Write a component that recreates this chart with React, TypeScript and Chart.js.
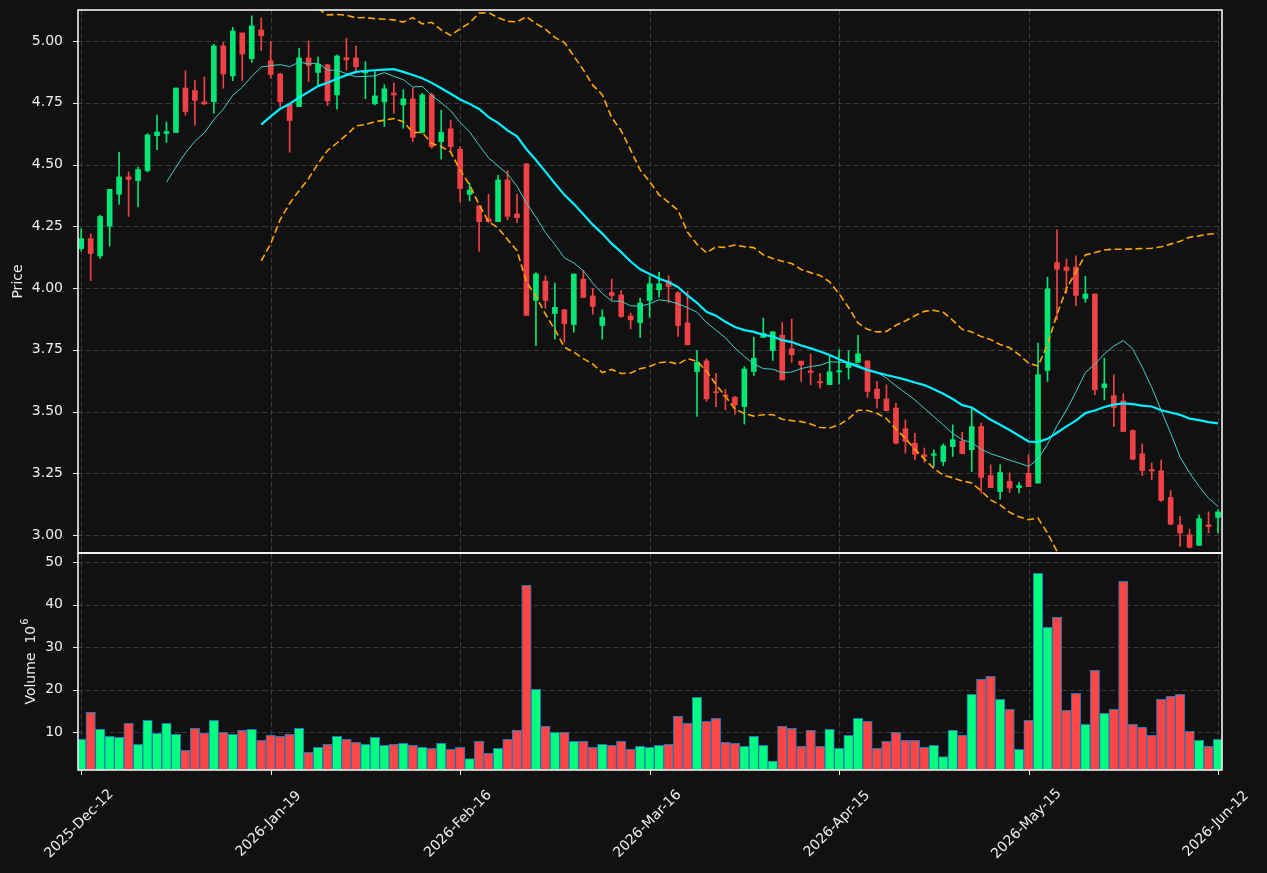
import React, { useEffect, useRef } from 'react';
import { Chart, registerables } from 'chart.js';

Chart.register(...registerables);

// ---------------- data ----------------
const opens = [
  4.16, 4.2, 4.13, 4.25, 4.38, 4.45, 4.435, 4.475, 4.617, 4.626,
  4.63, 4.81, 4.8, 4.754, 4.754, 4.981, 4.859, 5.033, 4.929, 5.045,
  4.92, 4.867, 4.746, 4.735, 4.932, 4.873, 4.904, 4.782, 4.933, 4.932,
  4.871, 4.746, 4.754, 4.79, 4.742, 4.766, 4.63, 4.782, 4.593, 4.645,
  4.562, 4.379, 4.333, 4.28, 4.269, 4.438, 4.3, 4.503, 3.95, 4.028,
  3.897, 3.912, 3.852, 4.036, 3.968, 3.848, 3.982, 3.972, 3.887, 3.86,
  3.95, 3.993, 4.028, 3.981, 3.859, 3.662, 3.705, 3.58, 3.567, 3.558,
  3.52, 3.662, 3.8, 3.747, 3.809, 3.754, 3.704, 3.664, 3.621, 3.609,
  3.66, 3.678, 3.699, 3.705, 3.591, 3.551, 3.514, 3.43, 3.372, 3.325,
  3.323, 3.298, 3.358, 3.379, 3.345, 3.439, 3.241, 3.176, 3.217, 3.192,
  3.25, 3.21, 3.666, 4.103, 4.085, 4.085, 3.958, 3.976, 3.597, 3.564,
  3.543, 3.423, 3.329, 3.265, 3.26, 3.152, 3.041, 3.001, 2.958, 3.041,
  3.071,
];
const highs = [
  4.24, 4.22, 4.295, 4.4, 4.55, 4.47, 4.49, 4.625, 4.7, 4.672,
  4.81, 4.88, 4.84, 4.854, 4.987, 4.994, 5.056, 5.033, 5.102, 5.093,
  4.998, 4.87, 4.746, 4.971, 5.001, 4.935, 4.907, 4.944, 5.012, 4.981,
  4.917, 4.877, 4.823, 4.83, 4.803, 4.809, 4.789, 4.789, 4.72, 4.68,
  4.573, 4.425, 4.333, 4.38, 4.456, 4.476, 4.38, 4.503, 4.063, 4.049,
  4.02, 3.914, 4.057, 4.071, 3.999, 3.912, 4.036, 3.99, 3.898, 3.959,
  4.047, 4.064, 4.049, 3.986, 3.986, 3.747, 3.713, 3.655, 3.59, 3.561,
  3.682, 3.801, 3.878, 3.823, 3.86, 3.874, 3.704, 3.732, 3.655, 3.73,
  3.75, 3.747, 3.809, 3.705, 3.622, 3.608, 3.534, 3.466, 3.412, 3.352,
  3.345, 3.369, 3.446, 3.416, 3.518, 3.453, 3.284, 3.284, 3.251, 3.213,
  3.325, 3.777, 4.044, 4.236, 4.117, 4.13, 4.047, 3.976, 3.716, 3.649,
  3.572, 3.426, 3.369, 3.291, 3.304, 3.18, 3.075, 3.024, 3.082, 3.093,
  3.102,
];
const lows = [
  4.15, 4.03, 4.12, 4.17, 4.34, 4.29, 4.33, 4.47, 4.56, 4.59,
  4.63, 4.7, 4.66, 4.742, 4.708, 4.809, 4.84, 4.84, 4.914, 4.962,
  4.85, 4.735, 4.55, 4.735, 4.836, 4.823, 4.739, 4.724, 4.883, 4.87,
  4.766, 4.742, 4.654, 4.708, 4.647, 4.593, 4.627, 4.566, 4.522, 4.553,
  4.348, 4.353, 4.148, 4.265, 4.269, 4.276, 4.265, 3.889, 3.767, 3.918,
  3.793, 3.781, 3.821, 3.962, 3.894, 3.793, 3.952, 3.881, 3.835, 3.8,
  3.882, 3.963, 3.941, 3.804, 3.77, 3.48, 3.541, 3.52, 3.507, 3.489,
  3.449, 3.646, 3.8, 3.707, 3.628, 3.699, 3.622, 3.608, 3.595, 3.609,
  3.611, 3.631, 3.699, 3.557, 3.514, 3.503, 3.368, 3.331, 3.304, 3.294,
  3.277, 3.281, 3.318, 3.329, 3.257, 3.17, 3.192, 3.145, 3.172, 3.17,
  3.196, 3.21, 3.622, 3.871, 3.979, 3.929, 3.942, 3.568, 3.547, 3.439,
  3.419, 3.305, 3.24, 3.224, 3.136, 3.041, 2.954, 2.947, 2.958, 3.008,
  3.008,
];
const closes = [
  4.2, 4.14, 4.29, 4.4, 4.45, 4.44, 4.48, 4.62, 4.632, 4.634,
  4.81, 4.715, 4.76, 4.746, 4.981, 4.867, 5.041, 4.948, 5.062, 5.022,
  4.865, 4.755, 4.678, 4.932, 4.901, 4.906, 4.758, 4.94, 4.924, 4.896,
  4.881, 4.778, 4.807, 4.782, 4.766, 4.61, 4.782, 4.573, 4.63, 4.573,
  4.403, 4.397, 4.269, 4.269, 4.438, 4.29, 4.285, 3.889, 4.057, 3.95,
  3.922, 3.856, 4.057, 3.962, 3.925, 3.882, 3.97, 3.885, 3.871, 3.939,
  4.017, 4.017, 4.006, 3.848, 3.77, 3.7, 3.551, 3.576, 3.561, 3.527,
  3.672, 3.716, 3.817, 3.823, 3.628, 3.73, 3.689, 3.658, 3.616, 3.661,
  3.665, 3.696, 3.734, 3.581, 3.553, 3.503, 3.372, 3.379, 3.327, 3.318,
  3.328, 3.361, 3.386, 3.329, 3.439, 3.233, 3.192, 3.253, 3.19, 3.2,
  3.196, 3.649, 3.997, 4.076, 4.071, 3.97, 3.976, 3.588, 3.612, 3.516,
  3.419, 3.307, 3.261, 3.259, 3.14, 3.044, 3.008, 2.95, 3.066, 3.034,
  3.093,
];
// volume in millions
const volumes = [
  8.35, 14.7, 10.7, 9.05, 8.82, 12.11, 7.17, 12.82, 9.76, 12.11,
  9.52, 5.76, 10.93, 9.84, 12.82, 9.99, 9.52, 10.46, 10.7, 8.11,
  9.29, 9.05, 9.52, 10.93, 5.29, 6.46, 7.17, 9.05, 8.35, 7.64,
  7.17, 8.82, 6.93, 7.17, 7.4, 6.93, 6.46, 6.23, 7.4, 5.99,
  6.46, 3.8, 7.87, 5.05, 6.23, 8.35, 10.46, 44.58, 20.11, 11.4,
  9.99, 9.99, 7.87, 7.87, 6.46, 7.17, 6.93, 7.87, 5.99, 6.7,
  6.46, 6.93, 7.17, 13.76, 12.11, 18.23, 12.58, 13.29, 7.64, 7.4,
  6.7, 9.05, 6.93, 3.25, 11.4, 10.93, 6.7, 10.46, 6.7, 10.7,
  6.23, 9.29, 13.29, 12.58, 6.23, 7.87, 9.99, 8.11, 8.11, 6.46,
  6.93, 4.27, 10.46, 9.29, 18.93, 22.46, 23.17, 17.76, 15.4, 5.99,
  12.82, 47.4, 34.7, 37.05, 15.17, 19.17, 11.87, 24.58, 14.46, 15.4,
  45.52, 11.87, 11.17, 9.29, 17.76, 18.46, 18.93, 10.23, 8.11, 6.7,
  8.35,
];
const tickIndices = [0, 20, 40, 60, 80, 100, 120];
const tickLabels = [
  '2025-Dec-12', '2026-Jan-19', '2026-Feb-16', '2026-Mar-16',
  '2026-Apr-15', '2026-May-15', '2026-Jun-12',
];

// ---------------- style ----------------
const BG = '#111111';
const TEXT = '#eeeeee';
const GRID = '#3a3a3a';
const UP = '#00e676';
const DOWN = '#ef4146';
const VOL_UP = '#00ff80';
const VOL_DOWN = '#ff4545';
const FONT = 'DejaVu Sans';

// ---------------- indicators derived from the closes ----------------
function sma(arr: number[], n: number) {
  const out: { x: number; y: number }[] = [];
  for (let i = n - 1; i < arr.length; i++) {
    let s = 0;
    for (let j = i - n + 1; j <= i; j++) s += arr[j];
    out.push({ x: i, y: s / n });
  }
  return out;
}
function band(arr: number[], n: number, k: number) {
  const out: { x: number; y: number }[] = [];
  for (let i = n - 1; i < arr.length; i++) {
    let s = 0;
    for (let j = i - n + 1; j <= i; j++) s += arr[j];
    const m = s / n;
    let v = 0;
    for (let j = i - n + 1; j <= i; j++) v += (arr[j] - m) * (arr[j] - m);
    out.push({ x: i, y: m + k * Math.sqrt(v / n) });
  }
  return out;
}

const clipPlugin = {
  id: 'panelClip',
  beforeDatasetDraw(chart: any, args: any) {
    const ds = chart.data.datasets[args.index];
    const ys = chart.scales[ds.yAxisID];
    const xs = chart.scales.x;
    const ctx = chart.ctx;
    ctx.save();
    ctx.beginPath();
    ctx.rect(xs.left, ys.top, xs.right - xs.left, ys.bottom - ys.top);
    ctx.clip();
  },
  afterDatasetDraw(chart: any) {
    chart.ctx.restore();
  },
};

const decorPlugin = {
  id: 'decor',
  beforeDatasetsDraw(chart: any) {
    const ctx = chart.ctx;
    const xs = chart.scales.x;
    const yp = chart.scales.yPrice;
    const yv = chart.scales.yVol;
    ctx.save();
    ctx.strokeStyle = GRID;
    ctx.lineWidth = 1;
    ctx.setLineDash([5, 3]);
    for (const idx of tickIndices) {
      const px = Math.round(xs.getPixelForValue(idx)) + 0.5;
      ctx.beginPath();
      ctx.moveTo(px, yp.top);
      ctx.lineTo(px, yv.bottom);
      ctx.stroke();
    }
    for (const sc of [yp, yv]) {
      for (const t of sc.ticks) {
        const py = Math.round(sc.getPixelForValue(t.value)) + 0.5;
        ctx.beginPath();
        ctx.moveTo(xs.left, py);
        ctx.lineTo(xs.right, py);
        ctx.stroke();
      }
    }
    ctx.restore();
  },
  afterDatasetsDraw(chart: any) {
    const ctx = chart.ctx;
    const xs = chart.scales.x;
    const yp = chart.scales.yPrice;
    const yv = chart.scales.yVol;
    ctx.save();
    // frames
    ctx.strokeStyle = '#ffffff';
    ctx.lineWidth = 1.5;
    ctx.strokeRect(xs.left, yp.top, xs.right - xs.left, yp.bottom - yp.top);
    ctx.strokeRect(xs.left, yv.top, xs.right - xs.left, yv.bottom - yv.top);
    // tick marks
    ctx.lineWidth = 1;
    ctx.strokeStyle = TEXT;
    for (const sc of [yp, yv]) {
      for (const t of sc.ticks) {
        const py = Math.round(sc.getPixelForValue(t.value)) + 0.5;
        ctx.beginPath();
        ctx.moveTo(xs.left - 5, py);
        ctx.lineTo(xs.left, py);
        ctx.stroke();
      }
    }
    for (const idx of tickIndices) {
      const px = Math.round(xs.getPixelForValue(idx)) + 0.5;
      ctx.beginPath();
      ctx.moveTo(px, yv.bottom);
      ctx.lineTo(px, yv.bottom + 5);
      ctx.stroke();
    }
    // x labels
    ctx.fillStyle = TEXT;
    ctx.font = `14px "${FONT}"`;
    ctx.textAlign = 'center';
    ctx.textBaseline = 'middle';
    tickIndices.forEach((idx, k) => {
      const px = xs.getPixelForValue(idx);
      ctx.save();
      ctx.translate(px - 2, yv.bottom + 54);
      ctx.rotate(-Math.PI / 4);
      ctx.fillText(tickLabels[k], 0, 0);
      ctx.restore();
    });
    // axis titles
    ctx.save();
    ctx.translate(18, (yp.top + yp.bottom) / 2);
    ctx.rotate(-Math.PI / 2);
    ctx.fillText('Price', 0, 0);
    ctx.restore();
    // volume title with a real superscript
    ctx.save();
    ctx.translate(31, (yv.top + yv.bottom) / 2);
    ctx.rotate(-Math.PI / 2);
    const main = 'Volume  10';
    const sup = '6';
    ctx.font = `14px "${FONT}"`;
    const wMain = ctx.measureText(main).width;
    ctx.font = `10px "${FONT}"`;
    const wSup = ctx.measureText(sup).width;
    const start = -(wMain + wSup + 1) / 2;
    ctx.textAlign = 'left';
    ctx.font = `14px "${FONT}"`;
    ctx.fillText(main, start, 0);
    ctx.font = `10px "${FONT}"`;
    ctx.fillText(sup, start + wMain + 1, -6);
    ctx.restore();
    ctx.restore();
  },
};

const fitY = (s: any) => {
  s.width = 78;
  s.paddingTop = 0;
  s.paddingBottom = 0;
};

export default function App() {
  const ref = useRef<HTMLCanvasElement | null>(null);
  useEffect(() => {
    if (!ref.current) return;
    const n = closes.length;
    const idx = Array.from({ length: n }, (_, i) => i);
    const up = idx.map((i) => closes[i] >= opens[i]);
    const candleColors = up.map((u) => (u ? UP : DOWN));
    const volColors = up.map((u) => (u ? VOL_UP : VOL_DOWN));

    const chart = new Chart(ref.current, {
      type: 'bar',
      data: {
        datasets: [
          {
            type: 'line',
            label: 'SMA20',
            data: sma(closes, 20),
            yAxisID: 'yPrice',
            borderColor: '#00f0ff',
            borderWidth: 2.2,
            pointRadius: 0,
            order: 1,
          } as any,
          {
            type: 'line',
            label: 'SMA10',
            data: sma(closes, 10),
            yAxisID: 'yPrice',
            borderColor: '#40d0c8',
            borderWidth: 1,
            pointRadius: 0,
            order: 1,
          },
          {
            type: 'line',
            label: 'Upper',
            data: band(closes, 20, 2),
            yAxisID: 'yPrice',
            borderColor: '#ffa500',
            borderWidth: 1.6,
            borderDash: [7, 3.5],
            pointRadius: 0,
            order: 1,
          },
          {
            type: 'line',
            label: 'Lower',
            data: band(closes, 20, -2),
            yAxisID: 'yPrice',
            borderColor: '#ffa500',
            borderWidth: 1.6,
            borderDash: [7, 3.5],
            pointRadius: 0,
            order: 1,
          },
          {
            type: 'bar',
            label: 'Body',
            data: idx.map((i) => ({ x: i, y: [opens[i], closes[i]] })),
            yAxisID: 'yPrice',
            backgroundColor: candleColors,
            barThickness: 5,
            minBarLength: 1,
            grouped: false,
            order: 2,
          } as any,
          {
            type: 'bar',
            label: 'Wick',
            data: idx.map((i) => ({ x: i, y: [lows[i], highs[i]] })),
            yAxisID: 'yPrice',
            backgroundColor: candleColors,
            barThickness: 1,
            grouped: false,
            order: 3,
          } as any,
          {
            type: 'bar',
            label: 'Volume',
            data: idx.map((i) => ({ x: i, y: volumes[i] })),
            yAxisID: 'yVol',
            backgroundColor: volColors,
            borderColor: '#1f77b4',
            borderWidth: 1,
            borderSkipped: false,
            barThickness: 9.5,
            grouped: false,
            order: 4,
          } as any,
        ],
      },
      options: {
        animation: false,
        responsive: false,
        devicePixelRatio: 1,
        events: [],
        layout: { padding: { top: 10, right: 45, left: 0, bottom: 0 } },
        plugins: { legend: { display: false }, tooltip: { enabled: false } },
        scales: {
          x: {
            type: 'linear',
            offset: false,
            min: -0.34,
            max: 120.42,
            grid: { display: false, offset: false },
            border: { display: false },
            ticks: { display: false },
            afterFit: (s: any) => {
              s.height = 103;
              s.paddingLeft = 0;
              s.paddingRight = 0;
            },
          },
          yVol: {
            type: 'linear',
            position: 'left',
            stack: 'panels',
            stackWeight: 217,
            min: 1.13,
            max: 52.19,
            grid: { display: false, drawTicks: false },
            border: { display: false },
            ticks: {
              stepSize: 10,
              includeBounds: false,
              padding: 15,
              color: TEXT,
              font: { family: FONT, size: 14 },
              callback: (v: any) => String(v),
            },
            afterFit: fitY,
          },
          yPrice: {
            type: 'linear',
            position: 'left',
            stack: 'panels',
            stackWeight: 543,
            min: 2.927,
            max: 5.126,
            grid: { display: false, drawTicks: false },
            border: { display: false },
            ticks: {
              stepSize: 0.25,
              includeBounds: false,
              padding: 15,
              color: TEXT,
              font: { family: FONT, size: 14 },
              callback: (v: any) => Number(v).toFixed(2),
            },
            afterFit: fitY,
          },
        } as any,
      },
      plugins: [clipPlugin, decorPlugin],
    });
    return () => chart.destroy();
  }, []);

  return (
    <div
      style={{
        position: 'absolute',
        left: 0,
        top: 0,
        width: 1267,
        height: 873,
        background: BG,
      }}
    >
      <canvas ref={ref} width={1267} height={873} style={{ display: 'block' }} />
    </div>
  );
}
